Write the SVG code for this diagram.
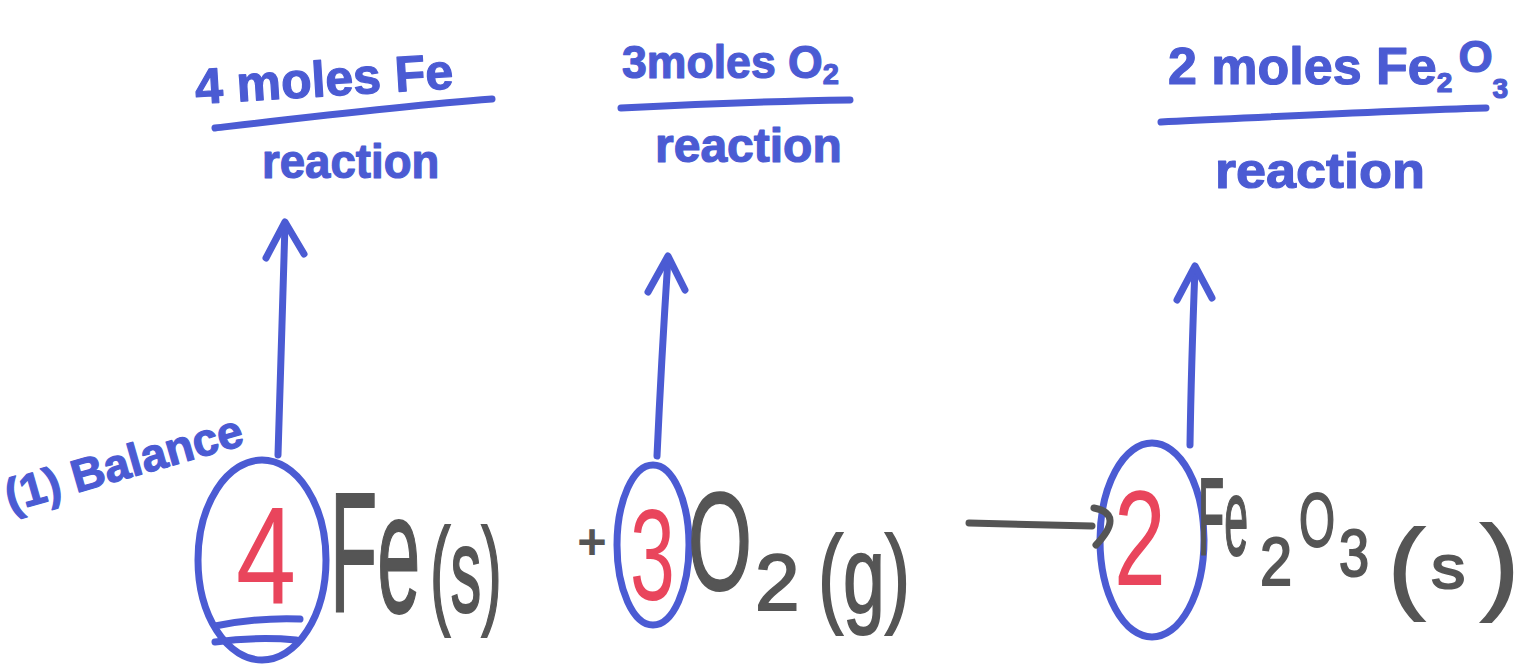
<svg xmlns="http://www.w3.org/2000/svg" width="1534" height="666" viewBox="0 0 1534 666">
<style>
.b{fill:#4b5bd3;stroke:#4b5bd3;stroke-width:1.2;stroke-linejoin:round;font-family:"Liberation Sans",Arial,sans-serif;font-weight:bold}
.r{fill:#e9455c;font-family:"Liberation Sans",Arial,sans-serif}
.g{fill:#555555;stroke:#555555;stroke-width:2;font-family:"Liberation Sans",Arial,sans-serif}
.bl{fill:none;stroke:#4b5bd3;stroke-width:7;stroke-linecap:round;stroke-linejoin:round}
.gl{fill:none;stroke:#555555;stroke-width:7;stroke-linecap:round;stroke-linejoin:round}
</style>
<rect width="1534" height="666" fill="#ffffff"/>
<g id="fe-ratio">
<text class="b" font-size="50" transform="translate(196 104) rotate(-3.5)">4 moles Fe</text>
<path class="bl" d="M215,128 C300,118 400,106 492,99"/>
<text class="b" font-size="48" transform="translate(262 178) scale(0.95 1)">reaction</text>
</g>
<g id="o2-ratio">
<text class="b" font-size="46" transform="translate(622 78) scale(0.97 1)">3moles O<tspan dy="6" font-size="30">2</tspan></text>
<path class="bl" d="M621,108 C700,104 780,101 850,100"/>
<text class="b" font-size="48" transform="translate(655 162)">reaction</text>
</g>
<g id="fe2o3-ratio">
<text class="b" font-size="52" transform="translate(1168 84)">2 moles Fe<tspan dy="8" font-size="28">2</tspan><tspan dx="6" dy="-20" font-size="44">O</tspan><tspan dy="26" font-size="28">3</tspan></text>
<path class="bl" d="M1161,122 C1270,117 1380,111 1486,108"/>
<text class="b" font-size="50" transform="translate(1215 188) scale(1.08 1)">reaction</text>
</g>
<g id="balance-label">
<text class="b" font-size="46" transform="translate(10 512) rotate(-16)">(1) Balance</text>
</g>
<g id="coef-fe">
<ellipse class="bl" cx="262" cy="560" rx="64" ry="100"/>
<path class="bl" d="M215,626 C245,620 275,618 300,619 M215,642 C245,638 275,638 296,640"/>
<text class="r" font-size="140" transform="translate(236 604) scale(0.77 1)">4</text>
</g>
<g id="fe">
<text class="g" font-size="170" transform="translate(330 612) scale(0.455 1)">Fe</text>
<text class="g" font-size="120" transform="translate(430 612) scale(0.514 1)">(s)</text>
<text class="g" font-size="48" stroke-width="3" transform="translate(578 558)">+</text>
</g>
<g id="coef-o2">
<ellipse class="bl" cx="653" cy="545" rx="36" ry="80"/>
<text class="r" font-size="130" transform="translate(630 600) scale(0.62 1)">3</text>
</g>
<g id="o2">
<text class="g" font-size="140" transform="translate(688 590) scale(0.587 1)">O</text>
<text class="g" font-size="80" transform="translate(755 610)">2</text>
<text class="g" font-size="110" transform="translate(818 612) scale(0.685 1)">(g)</text>
</g>
<g id="coef-fe2o3">
<ellipse class="bl" cx="1152" cy="540" rx="52" ry="97"/>
<text class="r" font-size="135" transform="translate(1114 585) scale(0.69 1)">2</text>
</g>
<g id="fe2o3">
<text class="g" font-size="110" transform="translate(1198 555) scale(0.39 1)">Fe</text>
<text class="g" font-size="68" transform="translate(1260 585) scale(0.85 1)">2</text>
<text class="g" font-size="76" transform="translate(1299 546) scale(0.61 1)">O</text>
<text class="g" font-size="66" transform="translate(1339 576) scale(0.82 1)">3</text>
<text class="g" font-size="100" transform="translate(1388 600) scale(1.1 1)">(<tspan dx="6" dy="-12" font-size="62">s</tspan><tspan dx="14" dy="12" font-size="105">)</tspan></text>
</g>
<g id="connectors">
<path class="bl" d="M278,455 C280,380 283,300 285,224"/>
<path class="bl" d="M266,258 L285,222 L304,254"/>
<path class="bl" d="M657,456 C660,390 664,320 668,258"/>
<path class="bl" d="M648,292 L668,256 L685,290"/>
<path class="bl" d="M1190,445 C1191,380 1193,320 1195,268"/>
<path class="bl" d="M1177,300 L1195,266 L1212,298"/>
<path class="gl" d="M969,523 L1092,526"/>
<path class="gl" d="M1094,508 C1115,512 1115,525 1096,545"/>
</g>
</svg>
